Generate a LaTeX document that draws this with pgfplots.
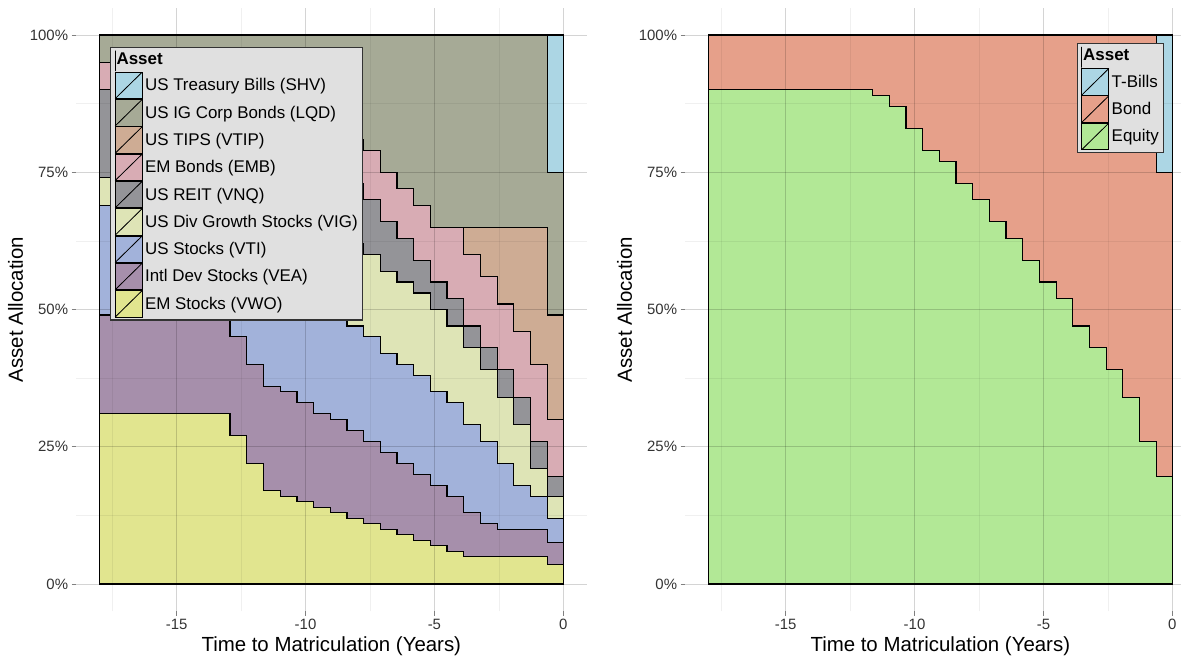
\documentclass[border=0pt]{standalone}
\usepackage{pgfplots}
\pgfplotsset{compat=1.18}
\usepackage{pgfplotstable}
\usepackage{fontspec}
\setmainfont{Liberation Sans}

\definecolor{cVWO}{HTML}{E1E58F}
\definecolor{cVEA}{HTML}{A68FAB}
\definecolor{cVTI}{HTML}{A2B2DA}
\definecolor{cVIG}{HTML}{DEE4B6}
\definecolor{cVNQ}{HTML}{949498}
\definecolor{cEMB}{HTML}{D8ACB4}
\definecolor{cVTIP}{HTML}{CEAC94}
\definecolor{cLQD}{HTML}{A6AA96}
\definecolor{cSHV}{HTML}{ACD6E4}
\definecolor{cEQ}{HTML}{B2E896}
\definecolor{cBD}{HTML}{E6A08A}
\definecolor{legbg}{HTML}{E0E0E0}

\pgfplotstableread{
t VWO VEA VTI VIG VNQ EMB VTIP LQD SHV
-18.00 .31 .18 .20 .05 .16 .05 0 .05 0
-12.93 .27 .18 .21 .08 .16 .05 0 .05 0
-12.28 .22 .18 .22 .125 .155 .055 0 .045 0
-11.63 .17 .19 .22 .16 .15 .06 0 .05 0
-10.98 .16 .19 .21 .16 .15 .06 0 .07 0
-10.33 .15 .18 .21 .15 .14 .07 0 .10 0
-9.69 .14 .17 .21 .14 .13 .07 0 .14 0
-9.04 .13 .17 .20 .15 .12 .08 0 .15 0
-8.39 .12 .16 .19 .15 .11 .08 0 .19 0
-7.74 .11 .15 .19 .15 .10 .09 0 .21 0
-7.10 .10 .14 .18 .15 .09 .09 0 .25 0
-6.45 .09 .13 .18 .15 .08 .09 0 .28 0
-5.80 .08 .12 .18 .15 .06 .10 0 .31 0
-5.15 .07 .11 .17 .15 .05 .10 0 .35 0
-4.51 .06 .10 .17 .14 .05 .13 0 .35 0
-3.86 .05 .08 .16 .14 .04 .13 .05 .35 0
-3.21 .05 .06 .15 .13 .04 .13 .09 .35 0
-2.56 .05 .05 .12 .12 .05 .12 .14 .35 0
-1.92 .05 .05 .08 .11 .05 .12 .19 .35 0
-1.27 .05 .05 .06 .05 .05 .14 .25 .35 0
-0.62 .035 .04 .045 .04 .035 .105 .19 .26 .25
0.00 .035 .04 .045 .04 .035 .105 .19 .26 .25
}\alloc

\pgfplotstableread{
t Equity Bond TBills
-18.00 .90 .10 0
-11.63 .89 .11 0
-10.98 .87 .13 0
-10.33 .83 .17 0
-9.69 .79 .21 0
-9.04 .77 .23 0
-8.39 .73 .27 0
-7.74 .70 .30 0
-7.10 .66 .34 0
-6.45 .63 .37 0
-5.80 .59 .41 0
-5.15 .55 .45 0
-4.51 .52 .48 0
-3.86 .47 .53 0
-3.21 .43 .57 0
-2.56 .39 .61 0
-1.92 .34 .66 0
-1.27 .26 .74 0
-0.62 .195 .555 .25
0.00 .195 .555 .25
}\glide

\pgfplotsset{
  ggpanel/.style={
    scale only axis, width=510.4bp, height=603.9bp,
    xmin=-18.9, xmax=0.9, ymin=-0.05, ymax=1.05,
    axis line style={draw=none},
    xtick={-15,-10,-5,0}, xticklabels={-15,-10,-5,0},
    ytick={0,0.25,0.5,0.75,1}, yticklabels={0\%,25\%,50\%,75\%,100\%},
    minor xtick={-17.5,-12.5,-7.5,-2.5},
    minor ytick={0.125,0.375,0.625,0.875},
    grid=both,
    major grid style={draw=black, draw opacity=0.17, line width=0.9bp},
    minor grid style={draw=black, draw opacity=0.06, line width=0.6bp},
    tick align=outside, tick pos=left,
    major tick length=4.5bp, minor tick length=0pt,
    tick style={draw=black!50, line width=0.8bp},
    ticklabel style={font=\fontsize{15}{18}\selectfont, text=black!80},
    xlabel={Time to Matriculation (Years)},
    ylabel={Asset Allocation},
    label style={font=\fontsize{20.5}{24}\selectfont},
    axis on top,
    const plot, stack plots=y,
    every axis plot/.append style={draw=black, line width=1.1bp},
    reverse legend,
    legend cell align=left,
    legend style={
      anchor=north west,
      fill=legbg, draw=black!80, line width=1.2bp,
      font=\fontsize{17}{19}\selectfont,
      inner xsep=4bp, inner ysep=2.5bp, row sep=0pt, column sep=1.5bp,
      nodes={inner sep=1bp},
    },
    legend image code/.code={
      \draw[#1, line width=0.8bp] (0bp,-13.25bp) rectangle (27bp,13.25bp);
      \draw[black, line width=0.8bp] (0bp,-13.25bp) -- (27bp,13.25bp);
    },
    legtitle/.style={legend image code/.code={\path (0bp,-11.8bp) rectangle (0bp,8.8bp);}},
  }
}

\begin{document}
\begin{tikzpicture}
\useasboundingbox (0,0) rectangle (1181bp,660bp);
\clip (0,0) rectangle (1181bp,660bp);

\begin{axis}[ggpanel, at={(76.1bp,48.55bp)}, anchor=south west,
  legend style={at={(axis description cs:0.0664,0.9347)}}]
\addplot[fill=cVWO] table[x=t,y=VWO]{\alloc} \closedcycle;
\addlegendentry{EM Stocks (VWO)}
\addplot[fill=cVEA] table[x=t,y=VEA]{\alloc} \closedcycle;
\addlegendentry{Intl Dev Stocks (VEA)}
\addplot[fill=cVTI] table[x=t,y=VTI]{\alloc} \closedcycle;
\addlegendentry{US Stocks (VTI)}
\addplot[fill=cVIG] table[x=t,y=VIG]{\alloc} \closedcycle;
\addlegendentry{US Div Growth Stocks (VIG)}
\addplot[fill=cVNQ] table[x=t,y=VNQ]{\alloc} \closedcycle;
\addlegendentry{US REIT (VNQ)}
\addplot[fill=cEMB] table[x=t,y=EMB]{\alloc} \closedcycle;
\addlegendentry{EM Bonds (EMB)}
\addplot[fill=cVTIP] table[x=t,y=VTIP]{\alloc} \closedcycle;
\addlegendentry{US TIPS (VTIP)}
\addplot[fill=cLQD] table[x=t,y=LQD]{\alloc} \closedcycle;
\addlegendentry{US IG Corp Bonds (LQD)}
\addplot[fill=cSHV] table[x=t,y=SHV]{\alloc} \closedcycle;
\addlegendentry{US Treasury Bills (SHV)}
\addlegendimage{legtitle}
\addlegendentry{\hspace*{-28.5bp}\textbf{Asset}}
\end{axis}

\begin{axis}[ggpanel, at={(685.1bp,48.55bp)}, anchor=south west,
  legend style={at={(axis description cs:0.7672,0.9408)}}]
\addplot[fill=cEQ] table[x=t,y=Equity]{\glide} \closedcycle;
\addlegendentry{Equity}
\addplot[fill=cBD] table[x=t,y=Bond]{\glide} \closedcycle;
\addlegendentry{Bond}
\addplot[fill=cSHV] table[x=t,y=TBills]{\glide} \closedcycle;
\addlegendentry{T-Bills}
\addlegendimage{legtitle}
\addlegendentry{\hspace*{-28.5bp}\textbf{Asset}}
\end{axis}
\end{tikzpicture}
\end{document}
